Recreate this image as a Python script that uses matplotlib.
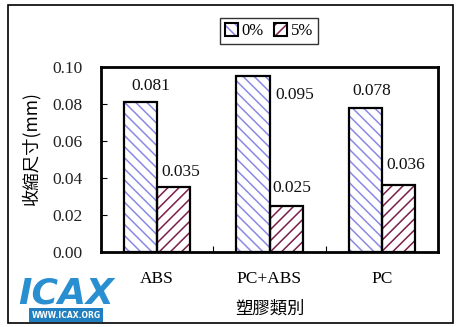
import matplotlib
matplotlib.use("Agg")
import matplotlib.pyplot as plt
from matplotlib.patches import Rectangle, Patch
import numpy as np

categories = ["ABS", "PC+ABS", "PC"]
series_names = ["0%", "5%"]
values_0 = [0.081, 0.095, 0.078]
values_5 = [0.035, 0.025, 0.036]
y_ticks = [0.00, 0.02, 0.04, 0.06, 0.08, 0.10]

SERIF = ["Liberation Serif", "DejaVu Serif"]
CJK = ["Noto Sans CJK TC", "DejaVu Sans"]
c0 = "#8a8ae6"
c5 = "#7a1f4a"
hatches = ["\\\\\\", "///"]

plt.rcParams["hatch.linewidth"] = 1.1

fig = plt.figure(figsize=(4.57, 3.27), dpi=100)
ax = fig.add_axes([101 / 457, 1 - 252 / 327, 337 / 457, 185 / 327])

x = np.arange(len(categories))
w = 0.295
bars = []
for vals, off, col, h in [(values_0, -w / 2, c0, hatches[0]), (values_5, w / 2, c5, hatches[1])]:
    ax.bar(x + off, vals, w, color="white", edgecolor=col, hatch=h, linewidth=0, zorder=2)
    bars.append(ax.bar(x + off, vals, w, fill=False, edgecolor="black", linewidth=1.6, zorder=3))

# value labels (offsets in points, relative to bar top centre)
offsets_0 = [(7, 6), (30, -19), (5, 6)]
offsets_5 = [(5, 5), (4, 7), (5, 9)]
for bc, vals, offs in [(bars[0], values_0, offsets_0), (bars[1], values_5, offsets_5)]:
    for rect, v, (dx, dy) in zip(bc, vals, offs):
        ax.annotate(f"{v:.3f}", (rect.get_x() + rect.get_width() / 2, v),
                    xytext=(dx, dy), textcoords="offset points",
                    ha="center", va="bottom", fontsize=12.5, family=SERIF, color="#111")

ax.set_xlim(-0.5, 2.5)
ax.set_ylim(0, 0.1)
ax.set_yticks(y_ticks)
ax.set_yticklabels([f"{t:.2f}" for t in y_ticks], family=SERIF, fontsize=12.5, color="#222")
ax.set_xticks(x)
ax.set_xticklabels(categories, family=SERIF, fontsize=12.5)
ax.tick_params(axis="x", length=0, pad=14)
ax.tick_params(axis="y", direction="in", length=4, width=0.8, pad=13)
ax.set_xticks([0.5, 1.5], minor=True)
ax.tick_params(axis="x", which="minor", direction="in", length=4, width=0.8)
for s in ax.spines.values():
    s.set_linewidth(2)

fig.text(31 / 457, 1 - 148 / 327, "收縮尺寸(mm)", rotation=90, ha="center", va="center",
         fontsize=12.5, family=CJK)
fig.text(270 / 457, 1 - 309 / 327, "塑膠類別", ha="center", va="center", fontsize=12.5, family=CJK)

handles = []
for col, h in zip([c0, c5], hatches):
    handles.append((Patch(facecolor="white", edgecolor=col, hatch=h, linewidth=0),
                    Patch(fill=False, edgecolor="black", linewidth=1.5)))
leg = fig.legend(handles, series_names, loc="center", bbox_to_anchor=(269 / 457, 1 - 31 / 327),
                 ncol=2, frameon=True, fancybox=False, edgecolor="black",
                 prop={"family": SERIF, "size": 12}, handlelength=0.8, handleheight=0.8,
                 handletextpad=0.2, columnspacing=0.6, borderpad=0.3)
leg.get_frame().set_linewidth(1.0)

# outer frame
fig.patches.append(Rectangle((8 / 457, 1 - 323 / 327), 445 / 457, 318 / 327, transform=fig.transFigure,
                             fill=False, edgecolor="black", linewidth=1.2))

# logo
fig.text(66 / 457, 1 - 293 / 327, "ICAX", ha="center", va="center", fontsize=26, style="italic",
         color="#2a8fd0", family="DejaVu Sans", weight="bold")
fig.text(66 / 457, 1 - 315 / 327, "WWW.ICAX.ORG", ha="center", va="center", fontsize=5.5,
         color="white", weight="bold",
         bbox=dict(boxstyle="square,pad=0.3", facecolor="#1f7fc0", edgecolor="none"))

fig.savefig("out.png", dpi=100)
